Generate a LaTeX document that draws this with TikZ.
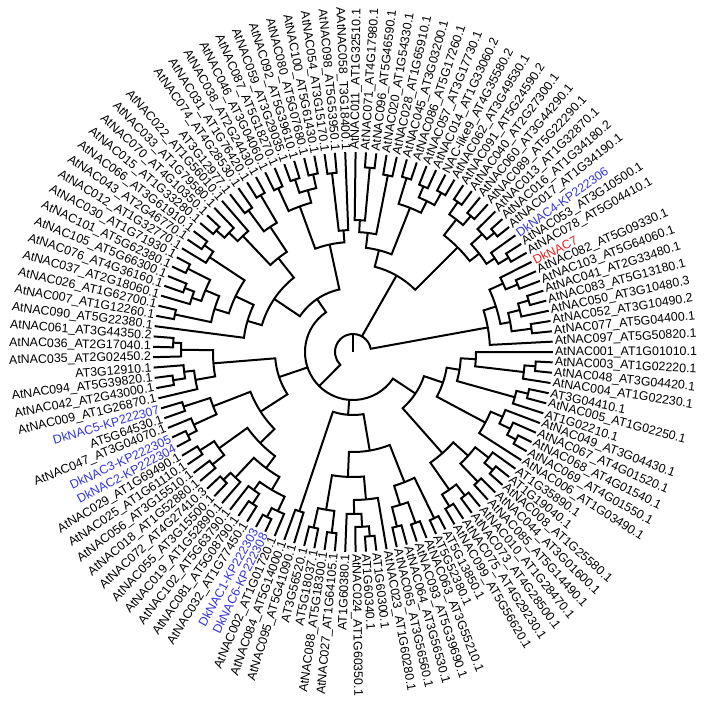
\documentclass[tikz,border=0pt]{standalone}
\usepackage{fontspec}
\setmainfont{Liberation Sans}
\usetikzlibrary{calc}
\definecolor{dkblue}{RGB}{51,51,221}
\definecolor{dkred}{RGB}{235,30,30}
% angle between two neighbouring leaves (360/121)
\newcommand{\leafstep}{2.97520661}
% \clade{name}{radius}{first child}{last child}
\newcommand{\clade}[4]{%
  \edef\kP{\csname tp@#3\endcsname}\edef\kQ{\csname tp@#4\endcsname}%
  \edef\kR{\csname tr@#3\endcsname}\edef\kS{\csname tr@#4\endcsname}%
  \pgfmathsetmacro\kA{\kP*\leafstep}\pgfmathsetmacro\kB{\kQ*\leafstep}%
  \draw[twig] (\kA:\kR) -- (\kA:#2) arc[start angle=\kA, end angle=\kB, radius=#2] -- (\kB:\kS);%
  \pgfmathsetmacro\kM{(\kP+\kQ)/2}%
  \expandafter\xdef\csname tp@#1\endcsname{\kM}%
  \expandafter\xdef\csname tr@#1\endcsname{#2}}
% \limb{parent}{child}: extra child of a node
\newcommand{\limb}[2]{%
  \edef\kP{\csname tp@#2\endcsname}\edef\kR{\csname tr@#2\endcsname}%
  \edef\kS{\csname tr@#1\endcsname}\pgfmathsetmacro\kA{\kP*\leafstep}%
  \draw[twig] (\kA:\kS) -- (\kA:\kR);}

\begin{document}
\begin{tikzpicture}[
    x=1pt, y=1pt,
    twig/.style={line width=2pt, line join=miter},
    tiplabel/.style={font=\fontsize{12.4}{14}\selectfont, inner sep=1pt}
]
\useasboundingbox (-353,-353) rectangle (351,352);

% Leaves
\foreach \i in {0,...,121} {\expandafter\xdef\csname tp@\i\endcsname{\i}\expandafter\xdef\csname tr@\i\endcsname{200}}

% Right group
\clade{x1}{180}{2}{3}
\clade{x2}{183}{5}{6}
\clade{x3}{172}{4}{x2}
\clade{x4}{160}{x1}{x3}
\clade{x5}{178}{7}{8}
\clade{x6}{165}{x5}{9}
\clade{xx}{150}{x4}{x6}
\clade{Ra}{137}{1}{xx}

% Upper right group
\clade{b1}{182}{10}{11}
\clade{b2}{170}{b1}{12}
\clade{b3}{185}{13}{14}
\clade{b4}{175}{b3}{15}
\clade{b5}{160}{b2}{b4}
\clade{b6}{180}{16}{17}
\clade{b7}{183}{18}{19}
\clade{b8}{168}{b6}{b7}
\clade{Ba}{148}{b5}{b8}
\clade{c1}{182}{20}{21}
\clade{c2}{180}{22}{23}
\clade{c3}{168}{c1}{c2}
\clade{c4}{182}{24}{25}
\clade{c5}{155}{c3}{c4}
\clade{c6}{180}{26}{27}
\clade{c7}{185}{28}{29}
\clade{c8}{132}{c7}{30}
\clade{c9}{120}{c6}{c8}
\clade{Bb}{105}{c5}{c9}
\clade{Bt}{88}{Ba}{Bb}

% Upper left group
\clade{d1}{180}{32}{33}
\clade{d2}{122}{31}{d1}
\clade{d3}{182}{34}{35}
\clade{d4}{182}{36}{37}
\clade{d5}{168}{d3}{d4}
\clade{d6}{180}{38}{39}
\clade{d7}{155}{d5}{d6}
\clade{Ca}{110}{d2}{d7}
\clade{e1}{182}{40}{41}
\clade{e2}{176}{42}{43}
\clade{e3}{150}{e1}{e2}
\clade{e4}{183}{46}{47}
\clade{e5}{172}{45}{e4}
\clade{e6}{160}{44}{e5}
\clade{Cb}{120}{e3}{e6}
\clade{f1}{183}{48}{49}
\clade{f2}{172}{f1}{50}
\clade{f3}{185}{51}{52}
\clade{f4}{180}{53}{54}
\clade{f5}{170}{f4}{55}
\clade{f6}{160}{f3}{f5}
\clade{f7}{182}{56}{57}
\clade{f8}{145}{f6}{f7}
\clade{f9}{130}{f2}{f8}
\clade{Cc}{110}{f9}{58}
\clade{Cd}{95}{Cb}{Cc}
\clade{Ct}{64}{Ca}{Cd}

% Left group
\clade{g1}{180}{59}{60}
\clade{g2}{172}{g1}{61}
\clade{g3}{182}{63}{64}
\clade{g4}{170}{62}{g3}
\clade{g5}{160}{g4}{65}
\clade{Ea}{140}{g2}{g5}
\clade{h1}{185}{69}{70}
\clade{h2}{175}{68}{h1}
\clade{h3}{178}{66}{67}
\clade{h4}{150}{h3}{h2}
\clade{h5}{182}{71}{72}
\clade{h6}{180}{73}{74}
\clade{h7}{165}{h5}{h6}
\clade{h8}{182}{75}{76}
\clade{h9}{172}{h8}{77}
\clade{p1}{186}{81}{82}
\clade{p2}{176}{p1}{83}
\clade{p3}{182}{79}{80}
\clade{p4}{170}{78}{p3}
\clade{p5}{160}{p4}{p2}
\clade{p6}{145}{h9}{p5}
\clade{hh}{130}{h7}{p6}
\clade{Eb}{110}{h4}{hh}
\clade{Et}{78}{Ea}{Eb}

% Bottom group
\clade{i1}{168}{84}{85}
\clade{j1}{185}{92}{93}
\clade{j2}{175}{91}{j1}
\clade{j3}{162}{90}{j2}
\clade{j4}{148}{j3}{94}
\clade{j5}{182}{88}{89}
\clade{j6}{180}{86}{87}
\clade{j7}{160}{j6}{j5}
\clade{j8}{125}{j7}{j4}
\clade{k1}{180}{95}{96}
\clade{k2}{182}{97}{98}
\clade{k3}{160}{k1}{k2}
\clade{k4}{185}{99}{100}
\clade{k5}{140}{k3}{k4}
\clade{Fb}{100}{j8}{k5}
\clade{Ft}{63}{i1}{Fb}

% Lower right group
\clade{n1}{182}{101}{102}
\clade{n2}{182}{103}{104}
\clade{n3}{168}{n1}{n2}
\clade{n4}{180}{105}{106}
\clade{n5}{183}{107}{108}
\clade{n6}{172}{n5}{109}
\clade{n7}{155}{n4}{n6}
\clade{n8}{135}{n3}{n7}
\clade{m1}{185}{111}{112}
\clade{m2}{175}{m1}{113}
\clade{m3}{163}{m2}{114}
\clade{m4}{150}{110}{m3}
\clade{q1}{183}{119}{120}
\clade{q2}{172}{118}{q1}
\clade{q3}{123}{q2}{121}
\clade{q4}{180}{116}{117}
\clade{q5}{168}{115}{q4}
\clade{q6}{108}{q5}{q3}
\clade{m5}{95}{m4}{q6}
\clade{Gt}{75}{n8}{m5}

% Backbone
\clade{Dt}{48}{Ct}{Gt}
\limb{Dt}{Et}
\limb{Dt}{Ft}
\clade{rt}{18}{Ra}{Dt}
\limb{rt}{Bt}
\coordinate (root) at (0,0);
\draw[twig] (root) -- (90:18);

% Labels
\foreach \i/\c/\t in {
  0/black/AtNAC001\_AT1G01010.1, 1/black/AtNAC097\_AT5G50820.1, 2/black/AtNAC077\_AT5G04400.1,
  3/black/AtNAC052\_AT3G10490.2, 4/black/AtNAC050\_AT3G10480.3, 5/black/AtNAC083\_AT5G13180.1,
  6/black/AtNAC041\_AT2G33480.1, 7/black/AtNAC103\_AT5G64060.1, 8/black/AtNAC082\_AT5G09330.1,
  9/dkred/DkNAC7, 10/black/AtNAC078\_AT5G04410.1, 11/black/AtNAC053\_AT3G10500.1,
  12/dkblue/DkNAC4-KP222306, 13/black/AtNAC017\_AT1G34190.1, 14/black/AtNAC016\_AT1G34180.2,
  15/black/AtNAC013\_AT1G32870.1, 16/black/AtNAC089\_AT5G22290.1, 17/black/AtNAC060\_AT3G44290.1,
  18/black/AtNAC040\_AT2G27300.1, 19/black/AtNAC091\_AT5G24590.2, 20/black/AtNAC062\_AT3G49530.1,
  21/black/NAC-like9\_AT4G35580.2, 22/black/AtNAC014\_AT1G33060.2, 23/black/AtNAC057\_AT3G17730.1,
  24/black/AtNAC086\_AT5G17260.1, 25/black/AtNAC045\_AT3G03200.1, 26/black/AtNAC028\_AT1G65910.1,
  27/black/AtNAC020\_AT1G54330.1, 28/black/AtNAC096\_AT5G46590.1, 29/black/AtNAC071\_AT4G17980.1,
  30/black/AtNAC011\_AT1G32510.1, 31/black/AAtNAC058\_T3G18400.1, 32/black/AtNAC098\_AT5G53950.1,
  33/black/AtNAC054\_AT3G15170.1, 34/black/AtNAC100\_AT5G61430.1, 35/black/AtNAC080\_AT5G07680.1,
  36/black/AtNAC092\_AT5G39610.1, 37/black/AtNAC059\_AT3G29035.1, 38/black/AtNAC087\_AT5G18270.1,
  39/black/AtNAC046\_AT3G04060.1, 40/black/AtNAC038\_AT2G24430.1, 41/black/AtNAC031\_AT1G76420.1,
  42/black/AtNAC074\_AT4G28530.1, 43/black/AT3G12977.1, 44/black/AtNAC022\_AT1G56010.1,
  45/black/AtNAC033\_AT1G79580.1, 46/black/AtNAC070\_AT4G10350.1, 47/black/AtNAC015\_AT1G33280.1,
  48/black/AtNAC066\_AT3G61910.1, 49/black/AtNAC043\_AT2G46770.1, 50/black/AtNAC012\_AT1G32770.1,
  51/black/AtNAC030\_AT1G71930.1, 52/black/AtNAC101\_AT5G62380.1, 53/black/AtNAC105\_AT5G66300.1,
  54/black/AtNAC076\_AT4G36160.1, 55/black/AtNAC037\_AT2G18060.1, 56/black/AtNAC026\_AT1G62700.1,
  57/black/AtNAC007\_AT1G12260.1, 58/black/AtNAC090\_AT5G22380.1, 59/black/AtNAC061\_AT3G44350.2,
  60/black/AtNAC036\_AT2G17040.1, 61/black/AtNAC035\_AT2G02450.2, 62/black/AT3G12910.1,
  63/black/AtNAC094\_AT5G39820.1, 64/black/AtNAC042\_AT2G43000.1, 65/black/AtNAC009\_AT1G26870.1,
  66/dkblue/DkNAC5-KP222307, 67/black/AT5G64530.1, 68/black/AtNAC047\_AT3G04070.1,
  69/dkblue/DkNAC3-KP222305, 70/dkblue/DkNAC2-KP222304, 71/black/AtNAC029\_AT1G69490.1,
  72/black/AtNAC025\_AT1G61110.1, 73/black/AtNAC056\_AT3G15510.1, 74/black/AtNAC018\_AT1G52880.1,
  75/black/AtNAC072\_AT4G27410.3, 76/black/AtNAC055\_AT3G15500.1, 77/black/AtNAC019\_AT1G52890.1,
  78/black/AtNAC102\_AT5G63790.1, 79/black/AtNAC081\_AT5G08790.1, 80/black/AtNAC032\_AT1G77450.1,
  81/dkblue/DkNAC1-KP222303, 82/dkblue/DkNAC6-KP222308, 83/black/AtNAC002\_AT1G01720.1,
  84/black/AtNAC084\_AT5G14000.1, 85/black/AtNAC095\_AT5G41090.1, 86/black/AT3G56520.1,
  87/black/AT5G18037.1, 88/black/AtNAC088\_AT5G18300.1, 89/black/AtNAC027\_AT1G64105.1,
  90/black/AT1G60380.1, 91/black/AtNAC024\_AT1G60350.1, 92/black/AT1G60340.1,
  93/black/AT1G60300.1, 94/black/AtNAC023\_AT1G60280.1, 95/black/AtNAC065\_AT3G56560.1,
  96/black/AtNAC064\_AT3G56530.1, 97/black/AtNAC093\_AT5G39690.1, 98/black/AtNAC063\_AT3G55210.1,
  99/black/AT5G52380.1, 100/black/AT5G13850.1, 101/black/AtNAC099\_AT5G56620.1,
  102/black/AtNAC075\_AT4G29230.1, 103/black/AtNAC073\_AT4G28500.1, 104/black/AtNAC010\_AT1G28470.1,
  105/black/AtNAC085\_AT5G14490.1, 106/black/AtNAC044\_AT3G01600.1, 107/black/AtNAC008\_AT1G25580.1,
  108/black/AT1G19040.1, 109/black/AT1G35890.1, 110/black/AtNAC006\_AT1G03490.1,
  111/black/AtNAC069\_AT4G01550.1, 112/black/AtNAC068\_AT4G01540.1, 113/black/AtNAC067\_AT4G01520.1,
  114/black/AtNAC049\_AT3G04430.1, 115/black/AT1G02210.1, 116/black/AtNAC005\_AT1G02250.1,
  117/black/AT3G04410.1, 118/black/AtNAC004\_AT1G02230.1, 119/black/AtNAC048\_AT3G04420.1,
  120/black/AtNAC003\_AT1G02220.1} {
  \pgfmathsetmacro\ang{\i*\leafstep}
  \pgfmathtruncatemacro\flip{and(\ang>90,\ang<270)}
  \ifnum\flip=1
    \node[tiplabel, text=\c, rotate=\ang+180, anchor=east] (l\i) at (\ang:201) {\t};
  \else
    \node[tiplabel, text=\c, rotate=\ang, anchor=west] (l\i) at (\ang:201) {\t};
  \fi
}
\end{tikzpicture}
\end{document}
